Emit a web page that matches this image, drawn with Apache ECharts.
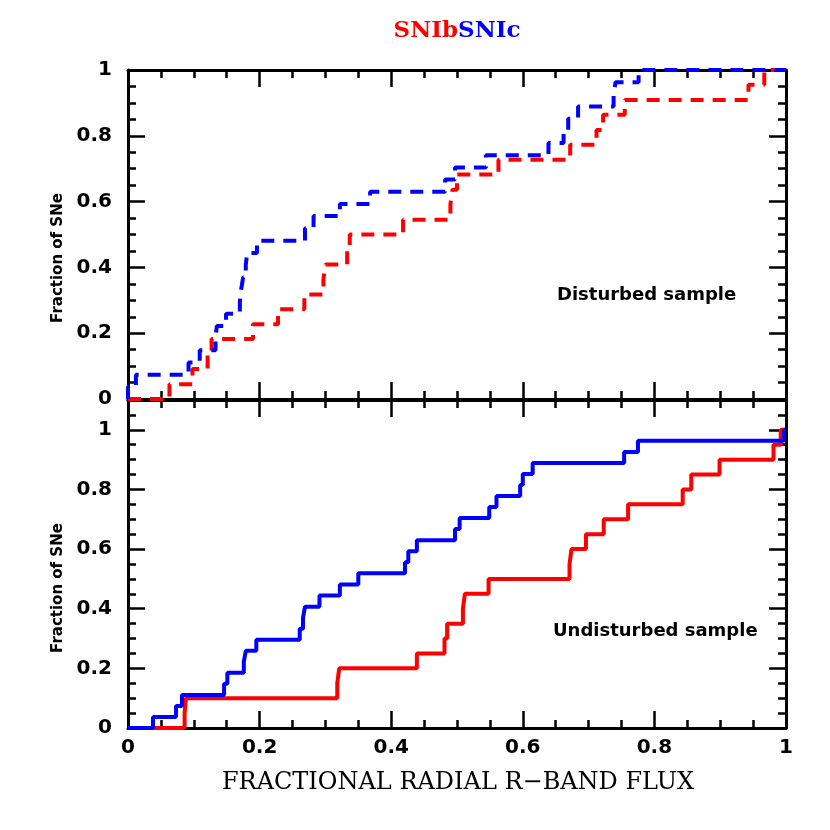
<!DOCTYPE html>
<html>
<head>
<meta charset="utf-8">
<script src="https://cdn.jsdelivr.net/npm/echarts@6/dist/echarts.min.js"></script>
<style>html,body{margin:0;padding:0;background:#fff;}#c{width:830px;height:830px;}</style>
</head>
<body>
<div id="c"></div>
<script>
// Disturbed sample, SNIb (step positions and cumulative fraction)
var disIbX = [0, 0.063, 0.098, 0.121, 0.127, 0.190, 0.228, 0.268, 0.297, 0.300, 0.333, 0.337, 0.418, 0.490, 0.493, 0.500, 0.563, 0.672, 0.712, 0.722, 0.755, 0.943, 0.967, 1];
var disIbY = [0, 0.045, 0.091, 0.136, 0.182, 0.227, 0.273, 0.318, 0.364, 0.409, 0.455, 0.500, 0.545, 0.591, 0.636, 0.682, 0.727, 0.773, 0.818, 0.864, 0.909, 0.955, 1.000, 1.000];
// Disturbed sample, SNIc
var disIcX = [0, 0, 0.012, 0.092, 0.109, 0.133, 0.135, 0.149, 0.170, 0.172, 0.175, 0.179, 0.181, 0.196, 0.269, 0.282, 0.322, 0.368, 0.482, 0.497, 0.544, 0.639, 0.662, 0.669, 0.684, 0.738, 0.741, 0.776, 1];
var disIcY = [0, 0.037, 0.074, 0.111, 0.148, 0.185, 0.222, 0.259, 0.296, 0.333, 0.370, 0.407, 0.444, 0.481, 0.519, 0.556, 0.593, 0.630, 0.667, 0.704, 0.741, 0.778, 0.815, 0.852, 0.889, 0.926, 0.963, 1.000, 1.000];
// Undisturbed sample, SNIb
var undIbX = [0, 0.086, 0.088, 0.318, 0.321, 0.439, 0.481, 0.485, 0.509, 0.512, 0.548, 0.671, 0.674, 0.696, 0.723, 0.760, 0.843, 0.856, 0.899, 0.981, 0.992, 1];
var undIbY = [0, 0.05, 0.10, 0.15, 0.20, 0.25, 0.30, 0.35, 0.40, 0.45, 0.50, 0.55, 0.60, 0.65, 0.70, 0.75, 0.80, 0.85, 0.90, 0.95, 1.00, 1.00];
// Undisturbed sample, SNIc
var undIcX = [0, 0.038, 0.073, 0.082, 0.146, 0.151, 0.176, 0.179, 0.195, 0.261, 0.266, 0.269, 0.291, 0.322, 0.350, 0.421, 0.426, 0.439, 0.497, 0.504, 0.549, 0.560, 0.596, 0.600, 0.615, 0.754, 0.775, 0.997, 1];
var undIcY = [0, 0.037, 0.074, 0.111, 0.148, 0.185, 0.222, 0.259, 0.296, 0.333, 0.370, 0.407, 0.444, 0.481, 0.519, 0.556, 0.593, 0.630, 0.667, 0.704, 0.741, 0.778, 0.815, 0.852, 0.889, 0.926, 0.963, 1.000, 1.000];

var seriesNames = ['SNIb', 'SNIc'];
var panelLabels = ['Disturbed sample', 'Undisturbed sample'];
var xTitle = 'FRACTIONAL RADIAL R\u2212BAND FLUX';
var yTitle = 'Fraction of SNe';

function pairs(xs, ys) { return xs.map(function (x, i) { return [x, ys[i]]; }); }

var chart = echarts.init(document.getElementById('c'));
var GL = 128, GW = 658, GT = [70, 400], GH = [329, 328];
var LW = 3, MAJ = 17, MIN = 8, TW = 2.5;
var labelFont = { fontFamily: 'DejaVu Sans', fontWeight: 'bold', fontSize: 20, color: '#000' };
function fmt(v) { return String(+v.toFixed(2)); }

// Frame + labels axis (no ticks)
function xLab(grid, pos, showLabel) {
  return {
    type: 'value', gridIndex: grid, position: pos, min: 0, max: 1, interval: 0.2,
    axisLine: { show: true, onZero: false, lineStyle: { color: '#000', width: LW } },
    axisTick: { show: false },
    axisLabel: Object.assign({ show: showLabel, margin: 10, formatter: fmt }, labelFont),
    splitLine: { show: false }
  };
}
function yLab(grid, pos, max, showLabel) {
  return {
    type: 'value', gridIndex: grid, position: pos, min: 0, max: max, interval: 0.2,
    axisLine: { show: true, onZero: false, lineStyle: { color: '#000', width: LW } },
    axisTick: { show: false },
    axisLabel: Object.assign({ show: showLabel, margin: 16, showMaxLabel: max === 1, formatter: fmt }, labelFont),
    splitLine: { show: false }
  };
}
// Tick-only axes placed on the opposite edge via offset so ticks point inward
function xTick(grid, pos, interval, len, minor) {
  return {
    type: 'value', gridIndex: grid, position: pos, offset: -GH[grid], min: 0, max: 1, interval: interval,
    axisLine: { show: false, onZero: false },
    axisTick: { show: true, length: len, lineStyle: { color: '#000', width: TW } },
    minorTick: { show: minor, splitNumber: 4, length: MIN, lineStyle: { color: '#000', width: TW } },
    axisLabel: { show: false }, splitLine: { show: false }
  };
}
function yTick(grid, pos, max, interval, len, minor) {
  return {
    type: 'value', gridIndex: grid, position: pos, offset: -GW, min: 0, max: max, interval: interval,
    axisLine: { show: false, onZero: false },
    axisTick: { show: true, length: len, lineStyle: { color: '#000', width: TW } },
    minorTick: { show: minor, splitNumber: 4, length: MIN, lineStyle: { color: '#000', width: TW } },
    axisLabel: { show: false }, splitLine: { show: false }
  };
}

var option = {
  animation: false,
  backgroundColor: '#fff',
  grid: [
    { left: GL, top: GT[0], width: GW, height: GH[0] },
    { left: GL, top: GT[1], width: GW, height: GH[1] }
  ],
  xAxis: [
    xLab(0, 'bottom', false),   // 0
    xLab(0, 'top', false),      // 1
    xLab(1, 'bottom', true),    // 2
    xLab(1, 'top', false),      // 3
    xTick(0, 'top', 0.2, MAJ, true),
    xTick(0, 'bottom', 0.2, MAJ, true),
    xTick(1, 'top', 0.2, MAJ, true),
    xTick(1, 'bottom', 0.2, MAJ, true)
  ],
  yAxis: [
    yLab(0, 'left', 1, true),      // 0
    yLab(0, 'right', 1, false),    // 1
    yLab(1, 'left', 1.1, true),    // 2
    yLab(1, 'right', 1.1, false),  // 3
    yTick(0, 'right', 1, 0.2, MAJ, true),
    yTick(0, 'left', 1, 0.2, MAJ, true),
    yTick(1, 'right', 1.1, 0.2, MAJ, false),
    yTick(1, 'left', 1.1, 0.2, MAJ, false),
    yTick(1, 'right', 1.1, 0.05, MIN, false),
    yTick(1, 'left', 1.1, 0.05, MIN, false)
  ],
  series: [
    { name: seriesNames[0], type: 'line', step: 'end', xAxisIndex: 0, yAxisIndex: 0, data: pairs(disIbX, disIbY), showSymbol: false, clip: false, z: 3,
      lineStyle: { color: '#ff0000', width: 4, type: [13, 9] } },
    { name: seriesNames[1], type: 'line', step: 'end', xAxisIndex: 0, yAxisIndex: 0, data: pairs(disIcX, disIcY), showSymbol: false, clip: false, z: 4,
      lineStyle: { color: '#0000ff', width: 4, type: [13, 9] } },
    { name: seriesNames[0], type: 'line', step: 'end', xAxisIndex: 2, yAxisIndex: 2, data: pairs(undIbX, undIbY), showSymbol: false, clip: false, z: 3,
      lineStyle: { color: '#ff0000', width: 4 } },
    { name: seriesNames[1], type: 'line', step: 'end', xAxisIndex: 2, yAxisIndex: 2, data: pairs(undIcX, undIcY), showSymbol: false, clip: false, z: 4,
      lineStyle: { color: '#0000ff', width: 4 } }
  ],
  graphic: [
    { type: 'text', x: 457, y: 31, style: {
        text: '{a|' + seriesNames[0] + '}{b|' + seriesNames[1] + '}',
        align: 'center', verticalAlign: 'middle',
        rich: {
          a: { fill: '#ff0000', fontFamily: 'DejaVu Serif', fontSize: 23, fontWeight: 'bold' },
          b: { fill: '#0000ff', fontFamily: 'DejaVu Serif', fontSize: 23, fontWeight: 'bold' }
        } } },
    { type: 'text', left: 557, top: 286, style: { text: panelLabels[0], fill: '#000', fontFamily: 'DejaVu Sans', fontWeight: 'bold', fontSize: 18 } },
    { type: 'text', left: 553, top: 622, style: { text: panelLabels[1], fill: '#000', fontFamily: 'DejaVu Sans', fontWeight: 'bold', fontSize: 18 } },
    { type: 'text', x: 458, y: 783, style: { text: xTitle, fill: '#000', fontFamily: 'DejaVu Serif', fontSize: 24, align: 'center', verticalAlign: 'middle' } },
    { type: 'text', x: 58, y: 258, rotation: Math.PI / 2, style: { text: yTitle, fill: '#000', fontFamily: 'DejaVu Sans', fontWeight: 'bold', fontSize: 15, align: 'center', verticalAlign: 'middle' } },
    { type: 'text', x: 58, y: 588, rotation: Math.PI / 2, style: { text: yTitle, fill: '#000', fontFamily: 'DejaVu Sans', fontWeight: 'bold', fontSize: 15, align: 'center', verticalAlign: 'middle' } }
  ]
};
chart.setOption(option);
</script>
</body>
</html>
